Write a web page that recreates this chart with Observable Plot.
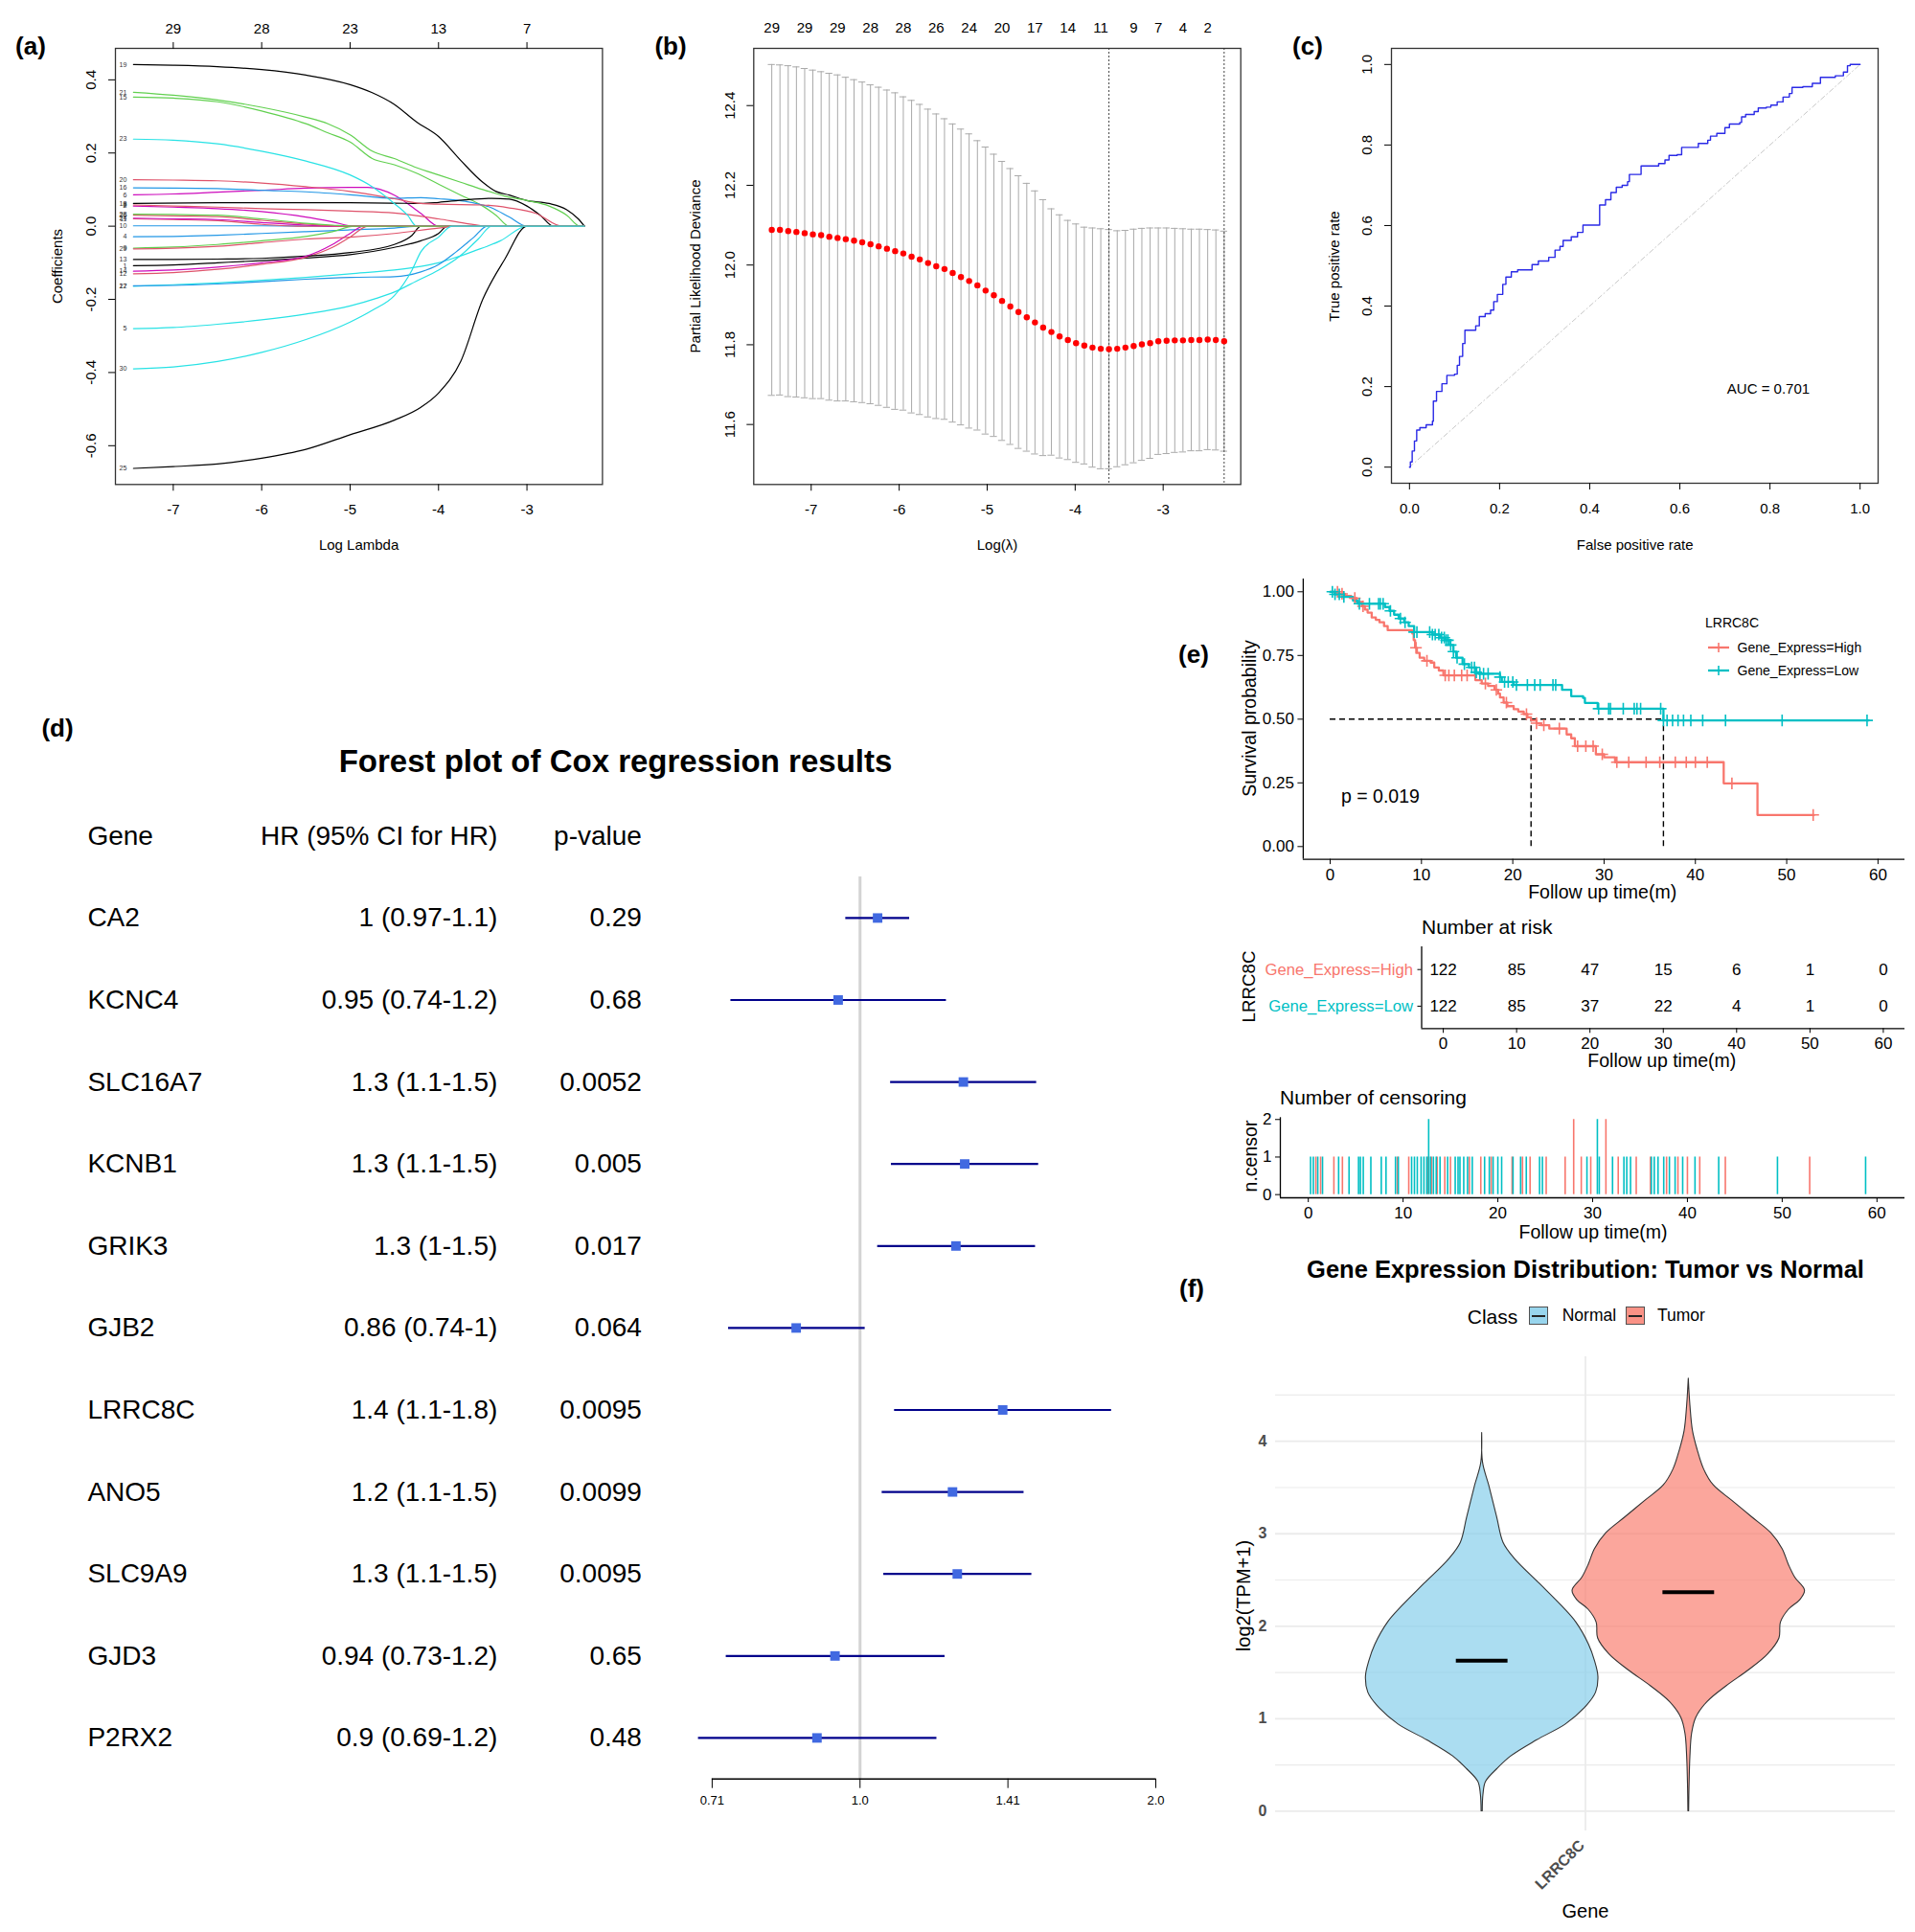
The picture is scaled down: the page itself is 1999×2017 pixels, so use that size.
<!DOCTYPE html>
<html><head><meta charset="utf-8">
<script src="https://cdn.jsdelivr.net/npm/d3@7"></script>
<script src="https://cdn.jsdelivr.net/npm/@observablehq/plot@0.6"></script>
<style>
body{margin:0;background:#fff;}
#root{position:relative;width:1999px;height:2017px;background:#fff;font-family:"Liberation Sans",Arial,Helvetica,sans-serif;overflow:hidden;color:#000;}
.abs{position:absolute;white-space:nowrap;line-height:1;}
</style></head><body><div id="root"></div>
<script>
// ---------------- DATA ----------------
// (a) LASSO coefficient paths: [logLambda, coef, logLambda, coef, ...]
const lassoIds = ["1","2","4","5","6","8","9","10","11","12","13","14","15","16","17","18","19","20","21","22","23","24","25","26","28","29","30"];
const lassoColors = ["#000000","#CD0BBC","#2297E6","#28E2E5","#CD0BBC","#DF536B","#61D04F","#2297E6","#DF536B","#DF536B","#000000","#CD0BBC","#61D04F","#2297E6","#28E2E5","#000000","#000000","#DF536B","#61D04F","#2297E6","#28E2E5","#CD0BBC","#000000","#DF536B","#61D04F","#DF536B","#28E2E5"];
const lassoPaths = [
 [-7.45,-.108,-7,-.106,-6.5,-.1,-6,-.094,-5.5,-.087,-5,-.078,-4.5,-.058,-4.2,-.04,-4,-.02,-3.9,0,-2.35,0],
 [-7.45,.055,-7,.052,-6.5,.048,-6,.04,-5.5,.025,-5.2,.012,-4.95,0,-2.35,0],
 [-7.45,-.029,-7,-.028,-6.5,-.025,-6,-.02,-5.5,-.015,-5,-.01,-4.5,-.005,-4.2,0,-2.35,0],
 [-7.45,-.28,-7,-.277,-6.5,-.268,-6,-.256,-5.5,-.24,-5,-.218,-4.7,-.197,-4.5,-.18,-4.25,-.15,-4,-.12,-3.75,-.08,-3.55,-.035,-3.4,0,-2.35,0],
 [-7.45,.086,-7,.088,-6.5,.093,-6,.098,-5.5,.104,-5,.106,-4.8,.106,-4.5,.085,-4.2,.035,-4,0,-2.35,0],
 [-7.45,.058,-7,.055,-6.5,.052,-6,.048,-5.5,.045,-5,.041,-4.5,.036,-4,.02,-3.7,.008,-3.45,0,-2.35,0],
 [-7.45,-.06,-7,-.057,-6.5,-.05,-6,-.04,-5.5,-.028,-5.2,-.015,-4.95,0,-2.35,0],
 [-7.45,.001,-6,.001,-5.5,0,-2.35,0],
 [-7.45,.02,-7,.018,-6.5,.015,-6,.005,-5.6,0,-2.35,0],
 [-7.45,-.13,-7,-.127,-6.5,-.118,-6,-.104,-5.5,-.085,-5.2,-.058,-5,-.03,-4.8,0,-2.35,0],
 [-7.45,-.091,-7,-.091,-6.5,-.09,-6,-.088,-5.5,-.082,-5,-.072,-4.5,-.05,-4.3,-.025,-4.2,0,-2.35,0],
 [-7.45,-.123,-7,-.12,-6.5,-.112,-6,-.1,-5.5,-.082,-5.2,-.05,-5,-.02,-4.85,0,-2.35,0],
 [-7.45,.353,-7,.35,-6.5,.34,-6,.315,-5.5,.28,-5.25,.255,-5,.23,-4.75,.185,-4.5,.168,-4.25,.145,-4,.115,-3.75,.085,-3.5,.055,-3.35,.03,-3.2,0,-2.35,0],
 [-7.45,.105,-7,.104,-6.5,.103,-6,.098,-5.5,.094,-5,.086,-4.5,.076,-4.2,.078,-4,.075,-3.7,.068,-3.4,.05,-3.2,.025,-3,0,-2.35,0],
 [-7.45,-.164,-7,-.16,-6.5,-.155,-6,-.148,-5.5,-.14,-5,-.13,-4.5,-.12,-4.2,-.11,-4,-.1,-3.8,-.085,-3.6,-.068,-3.3,-.04,-3,0,-2.35,0],
 [-7.45,.062,-6.5,.064,-5,.064,-4.5,.063,-4.2,.062,-4,.065,-3.7,.072,-3.4,.076,-3.2,.074,-3,.055,-2.85,.03,-2.7,0,-2.35,0],
 [-7.45,.442,-7,.44,-6.5,.436,-6,.428,-5.5,.413,-5,.387,-4.75,.365,-4.5,.333,-4.25,.285,-4,.245,-3.75,.18,-3.5,.12,-3.35,.095,-3.2,.085,-3,.07,-2.75,.062,-2.55,.045,-2.42,.02,-2.35,0],
 [-7.45,.127,-7,.126,-6.5,.124,-6,.118,-5.5,.108,-5,.095,-4.5,.075,-4.2,.062,-4,.06,-3.5,.058,-3.2,.05,-2.9,.035,-2.6,0,-2.35,0],
 [-7.45,.366,-7,.358,-6.5,.345,-6,.325,-5.5,.298,-5.25,.28,-5,.25,-4.75,.205,-4.5,.185,-4.25,.16,-4,.14,-3.75,.12,-3.5,.1,-3.25,.082,-3,.07,-2.75,.055,-2.55,.03,-2.4,0,-2.35,0],
 [-7.45,-.163,-7,-.162,-6.5,-.158,-6,-.152,-5.5,-.145,-5,-.14,-4.5,-.138,-4.2,-.125,-4,-.105,-3.8,-.07,-3.6,-.03,-3.45,0,-2.35,0],
 [-7.45,.238,-7,.235,-6.5,.225,-6,.205,-5.5,.178,-5,.14,-4.75,.108,-4.5,.062,-4.35,.03,-4.25,0,-2.35,0],
 [-7.45,.022,-7,.02,-6.5,.018,-6,.01,-5.5,.003,-5.2,0,-2.35,0],
 [-7.45,-.662,-7,-.657,-6.5,-.65,-6,-.634,-5.5,-.61,-5,-.57,-4.5,-.53,-4.2,-.495,-4,-.456,-3.75,-.37,-3.5,-.2,-3.25,-.09,-3,0,-2.35,0],
 [-7.45,.03,-7,.028,-6.5,.026,-6,.016,-5.5,.006,-5.1,0,-2.35,0],
 [-7.45,.033,-7,.032,-6.5,.03,-6,.02,-5.5,.008,-5.2,.003,-4.95,0,-2.35,0],
 [-7.45,-.062,-7,-.06,-6.5,-.055,-6,-.045,-5.5,-.035,-5,-.03,-4.5,-.02,-4,-.005,-3.8,0,-2.35,0],
 [-7.45,-.39,-7,-.385,-6.5,-.37,-6,-.345,-5.5,-.31,-5,-.262,-4.75,-.23,-4.5,-.19,-4.3,-.12,-4.2,-.07,-4,-.03,-3.85,0,-2.35,0]
];
const aXTicks = [-7,-6,-5,-4,-3];
const aTopAt = [-7,-6,-5,-4,-3];
const aTopLabels = ["29","28","23","13","7"];
const aYTicks = [-0.6,-0.4,-0.2,0,0.2,0.4];

// (b) cross-validation curve
const cvLambda = [-7.448,-7.355,-7.261,-7.168,-7.074,-6.981,-6.887,-6.794,-6.700,-6.607,-6.513,-6.420,-6.326,-6.233,-6.139,-6.046,-5.953,-5.859,-5.766,-5.672,-5.579,-5.485,-5.392,-5.298,-5.205,-5.111,-5.018,-4.924,-4.831,-4.737,-4.644,-4.550,-4.457,-4.364,-4.270,-4.177,-4.083,-3.990,-3.896,-3.803,-3.709,-3.616,-3.522,-3.429,-3.335,-3.242,-3.148,-3.055,-2.961,-2.868,-2.775,-2.681,-2.588,-2.494,-2.401,-2.307];
const cvMean = [12.088,12.088,12.085,12.083,12.080,12.077,12.075,12.071,12.068,12.065,12.061,12.057,12.052,12.047,12.041,12.035,12.029,12.021,12.014,12.005,11.997,11.990,11.980,11.970,11.960,11.949,11.936,11.924,11.910,11.896,11.882,11.869,11.856,11.843,11.832,11.821,11.812,11.804,11.798,11.793,11.790,11.789,11.790,11.793,11.797,11.801,11.804,11.809,11.810,11.811,11.811,11.812,11.812,11.813,11.812,11.809];
const cvSE = [0.415,0.414,0.415,0.414,0.413,0.412,0.410,0.410,0.409,0.406,0.404,0.402,0.400,0.399,0.398,0.397,0.393,0.392,0.389,0.386,0.382,0.377,0.374,0.371,0.369,0.363,0.360,0.354,0.350,0.346,0.342,0.336,0.330,0.321,0.309,0.305,0.300,0.299,0.297,0.300,0.301,0.300,0.296,0.294,0.293,0.291,0.289,0.284,0.283,0.281,0.280,0.278,0.278,0.276,0.276,0.276];
const cvTopIdx = [0,4,8,12,16,20,24,28,32,36,40,44,47,50,53];
const cvTopNz = ["29","29","29","28","28","26","24","20","17","14","11","9","7","4","2"];
const cvMinIdx = 41, cv1seIdx = 55;
const bXTicks = [-7,-6,-5,-4,-3];
const bYTicks = [11.6,11.8,12.0,12.2,12.4];

// (c) ROC
const rocFpr = [0,0.002,0.006,0.011,0.016,0.023,0.037,0.051,0.053,0.06,0.072,0.083,0.1,0.106,0.111,0.118,0.123,0.138,0.147,0.155,0.168,0.18,0.187,0.195,0.207,0.214,0.226,0.24,0.263,0.272,0.286,0.309,0.323,0.334,0.341,0.359,0.373,0.385,0.415,0.422,0.435,0.447,0.459,0.472,0.484,0.488,0.511,0.514,0.539,0.553,0.567,0.576,0.594,0.604,0.631,0.641,0.662,0.668,0.682,0.7,0.71,0.733,0.737,0.746,0.765,0.774,0.792,0.802,0.816,0.829,0.843,0.849,0.873,0.894,0.912,0.945,0.963,0.972,0.978,1.0];
const rocTpr = [0,0.013,0.04,0.065,0.092,0.098,0.105,0.114,0.164,0.188,0.207,0.228,0.231,0.253,0.275,0.307,0.34,0.34,0.351,0.374,0.381,0.39,0.411,0.429,0.454,0.472,0.485,0.49,0.49,0.503,0.512,0.521,0.539,0.548,0.563,0.572,0.583,0.601,0.601,0.651,0.664,0.682,0.695,0.7,0.709,0.727,0.727,0.748,0.748,0.754,0.763,0.774,0.776,0.794,0.794,0.804,0.812,0.822,0.829,0.843,0.852,0.856,0.87,0.876,0.883,0.892,0.894,0.899,0.907,0.919,0.928,0.943,0.945,0.953,0.968,0.972,0.981,0.997,1.0,1.0];
const rocAuc = "AUC = 0.701";
const cTicks = [0,0.2,0.4,0.6,0.8,1.0];

// (d) Cox forest
const coxGenes = ["CA2","KCNC4","SLC16A7","KCNB1","GRIK3","GJB2","LRRC8C","ANO5","SLC9A9","GJD3","P2RX2"];
const coxHRText = ["1 (0.97-1.1)","0.95 (0.74-1.2)","1.3 (1.1-1.5)","1.3 (1.1-1.5)","1.3 (1-1.5)","0.86 (0.74-1)","1.4 (1.1-1.8)","1.2 (1.1-1.5)","1.3 (1.1-1.5)","0.94 (0.73-1.2)","0.9 (0.69-1.2)"];
const coxPText = ["0.29","0.68","0.0052","0.005","0.017","0.064","0.0095","0.0099","0.0095","0.65","0.48"];
const coxHR = [1.042,0.950,1.274,1.278,1.252,0.861,1.397,1.242,1.256,0.943,0.904];
const coxLo = [0.966,0.738,1.073,1.075,1.041,0.734,1.083,1.052,1.056,0.730,0.684];
const coxHi = [1.122,1.223,1.511,1.518,1.507,1.011,1.801,1.467,1.494,1.219,1.196];
const coxHeader = ["Gene","HR (95% CI for HR)","p-value"];
const coxTicks = [0.70711,1,1.41421,2];
const coxTickLabels = ["0.71","1.0","1.41","2.0"];

// (e) Kaplan-Meier
const kmHighT = [0,0.9,1.6,2.3,2.9,3.5,3.8,4.1,4.55,5.0,5.4,5.9,6.3,9.0,9.15,9.3,9.5,9.8,10.3,11.0,11.4,11.9,12.4,15.9,16.6,17.3,18.0,18.4,18.6,19.0,19.4,20.1,20.6,21.2,21.6,22.0,22.6,23.1,24.0,25.9,26.4,26.8,29.1,30.0,31.2,43.1,46.8,53];
const kmHighS = [1,0.992,0.984,0.975,0.96,0.943,0.93,0.918,0.899,0.89,0.88,0.865,0.849,0.836,0.81,0.78,0.76,0.741,0.729,0.722,0.703,0.691,0.672,0.653,0.64,0.63,0.615,0.6,0.585,0.565,0.551,0.539,0.53,0.52,0.507,0.495,0.484,0.476,0.463,0.44,0.425,0.394,0.362,0.35,0.331,0.248,0.124,0.124];
const kmLowT = [0,0.5,1.5,2.5,3.0,6.0,6.5,7.0,7.5,8.1,8.6,9.2,11.2,12.0,12.6,13.1,13.5,13.8,14.5,15.2,16.0,16.3,18.6,18.8,20.1,25.4,26.4,27.7,27.9,29.3,36.5,59];
const kmLowS = [1,0.99,0.98,0.965,0.953,0.94,0.925,0.91,0.895,0.88,0.865,0.842,0.832,0.82,0.81,0.791,0.765,0.741,0.716,0.703,0.684,0.678,0.665,0.646,0.634,0.615,0.59,0.583,0.564,0.541,0.495,0.495];
const censHighT = [0.8,1.3,2.7,3.6,9.4,10.6,12.6,13.0,13.6,14.4,15.0,17.0,18.2,19.3,21.5,22.6,23.4,25.1,27.1,28.0,28.8,29.8,31.4,32.7,34.6,36.1,37.8,39.0,40.0,41.3,44.0,52.9];
const censHighN = [1,1,1,1,1,1,1,1,1,1,1,1,1,1,1,1,1,1,1,2,1,1,2,1,1,1,1,1,1,1,1,1];
const censLowT = [0.24,0.53,1.0,1.5,3.2,4.3,5.3,5.5,5.8,6.6,7.7,8.2,9.2,9.5,10.9,11.2,11.5,11.9,12.2,12.5,12.7,12.9,13.2,13.5,13.9,14.7,15.5,15.8,16.0,16.4,16.8,17.3,18.6,19.1,19.5,20.0,20.4,21.6,22.4,23.0,24.4,24.7,29.4,30.5,30.7,32.1,33.3,33.6,34.0,36.2,36.5,36.9,37.5,38.1,38.7,39.5,40.8,43.3,49.5,58.8];
const censLowN = [1,1,1,1,1,1,1,1,1,1,1,1,1,1,1,1,1,1,1,1,2,1,1,1,1,1,1,1,1,1,1,1,1,1,1,1,1,1,1,1,1,1,1,2,1,1,1,1,1,1,1,1,1,1,1,1,1,1,1,1];
const kmMedians = [22.0, 36.5];
const kmGroups = ["Gene_Express=High","Gene_Express=Low"];
const kmColors = ["#F8766D","#00BFC4"];
const kmPText = "p = 0.019";
const timeTicks = [0,10,20,30,40,50,60];
const survTicks = [0,0.25,0.5,0.75,1];
const riskHigh = [122,85,47,15,6,1,0];
const riskLow = [122,85,37,22,4,1,0];
const censTicks = [0,1,2];

// (f) violin
const vClasses = ["Normal","Tumor"];
const vFills = ["#87CEEB","#FA8072"];
const vNormV = [0,0.179,0.317,0.455,0.593,0.765,0.938,1.110,1.282,1.455,1.627,1.799,2.041,2.213,2.454,2.730,2.902,3.178,3.523,3.764,4.09];
const vNormW = [0.005,0.011,0.033,0.13,0.25,0.47,0.72,0.88,0.98,1.0,0.97,0.92,0.81,0.69,0.5,0.28,0.184,0.129,0.06,0.008,0];
const vTumV = [0,0.248,0.593,0.834,1.007,1.179,1.351,1.524,1.696,1.868,2.041,2.179,2.282,2.385,2.523,2.661,2.834,3.006,3.178,3.351,3.523,3.695,3.902,4.109,4.385,4.678];
const vTumW = [0.003,0.006,0.014,0.028,0.063,0.16,0.325,0.518,0.683,0.78,0.793,0.862,0.959,1.0,0.917,0.862,0.807,0.71,0.545,0.38,0.215,0.132,0.077,0.036,0.014,0];
const vMedians = [1.627, 2.368];
const vGene = "LRRC8C";
const vTicks = [0,1,2,3,4];
const vMinor = [0.5,1.5,2.5,3.5,4.5];

// ---------------- HELPERS ----------------
const FONT = '"Liberation Sans", Arial, Helvetica, sans-serif';
const root = document.getElementById("root");
function put(el, left, top){ el.style.position="absolute"; el.style.left=left+"px"; el.style.top=top+"px"; root.appendChild(el); return el; }
function label(text, x, y, o={}){
  const d=document.createElement("div"); d.className="abs"; d.textContent=text;
  d.style.left=x+"px"; d.style.top=y+"px"; d.style.fontSize=(o.size||15)+"px";
  d.style.fontWeight=o.weight||"normal"; d.style.color=o.color||"#000";
  const a=o.anchor||"middle"; const tx=a==="middle"?"-50%":a==="end"?"-100%":"0";
  d.style.transform=`translate(${tx},-50%)`+(o.rotate?` rotate(${o.rotate}deg)`:"");
  root.appendChild(d); return d;
}
function st(size){ return {fontFamily:FONT, fontSize:size+"px", color:"#000", background:"transparent", overflow:"visible"}; }

// ---------------- (a) ----------------
const lassoRows=[]; const lassoStarts=[];
lassoIds.forEach((id,k)=>{ const p=lassoPaths[k]; lassoStarts.push({id,x:p[0],y:p[1]});
  for(let i=0;i<p.length;i+=2) lassoRows.push({id,color:lassoColors[k],x:p[i],y:p[i+1]}); });
const aTopMap=new Map(aTopAt.map((v,i)=>[v,aTopLabels[i]]));
put(Plot.plot({
  width:650,height:600,marginLeft:120,marginRight:21.6,marginTop:50,marginBottom:94.7,
  x:{domain:[-7.654,-2.146]}, y:{domain:[-0.706,0.486]}, color:{type:"identity"}, style:st(15),
  marks:[
    Plot.line(lassoRows,{x:"x",y:"y",z:"id",stroke:"color",strokeWidth:1.2,curve:"monotone-x"}),
    Plot.text(lassoStarts,{x:"x",y:"y",text:"id",dx:-7,textAnchor:"end",fontSize:7,fill:"#333"}),
    Plot.frame({stroke:"#333",strokeWidth:1.3}),
    Plot.axisX({anchor:"bottom",ticks:aXTicks,tickSize:7,tickPadding:14,label:null,tickFormat:d=>String(d)}),
    Plot.axisX({anchor:"top",ticks:aTopAt,tickSize:7,tickPadding:9,label:null,tickFormat:d=>aTopMap.get(d)}),
    Plot.axisY({ticks:aYTicks,tickSize:7,label:null,tickFormat:()=>""}),
    Plot.text(aYTicks,{y:d=>d,text:d=>d.toFixed(1),frameAnchor:"left",textAnchor:"middle",dx:-25,rotate:-90})
  ]}),0,0);
label("Log Lambda",374.6,568,{size:15});
label("Coefficients",59,278,{size:15,rotate:-90});
label("(a)",32,48,{size:26,weight:"bold"});

// ---------------- (b) ----------------
const cvRows=cvLambda.map((x,i)=>({x,m:cvMean[i],se:cvSE[i]}));
const bTopMap=new Map(cvTopIdx.map((k,i)=>[cvLambda[k],cvTopNz[i]]));
put(Plot.plot({
  width:660,height:600,marginLeft:126.3,marginRight:25.3,marginTop:50,marginBottom:94.7,
  x:{domain:[-7.653,-2.118]}, y:{domain:[11.4495,12.5435]}, style:st(15),
  marks:[
    Plot.ruleX(cvRows,{x:"x",y1:d=>d.m-d.se,y2:d=>d.m+d.se,stroke:"#A9A9A9",strokeWidth:1}),
    Plot.ruleY(cvRows,{y:d=>d.m+d.se,x1:d=>d.x-0.04,x2:d=>d.x+0.04,stroke:"#A9A9A9",strokeWidth:1}),
    Plot.ruleY(cvRows,{y:d=>d.m-d.se,x1:d=>d.x-0.04,x2:d=>d.x+0.04,stroke:"#A9A9A9",strokeWidth:1}),
    Plot.ruleX([cvLambda[cvMinIdx],cvLambda[cv1seIdx]],{stroke:"#444",strokeDasharray:"2,2",strokeWidth:1}),
    Plot.dot(cvRows,{x:"x",y:"m",r:3.2,fill:"#FF0000"}),
    Plot.frame({stroke:"#333",strokeWidth:1.3}),
    Plot.axisX({anchor:"bottom",ticks:bXTicks,tickSize:7,tickPadding:14,label:null,tickFormat:d=>String(d)}),
    Plot.axisX({anchor:"top",ticks:cvTopIdx.map(k=>cvLambda[k]),tickSize:0,tickPadding:17,label:null,tickFormat:d=>bTopMap.get(d)}),
    Plot.axisY({ticks:bYTicks,tickSize:7,label:null,tickFormat:()=>""}),
    Plot.text(bYTicks,{y:d=>d,text:d=>d.toFixed(1),frameAnchor:"left",textAnchor:"middle",dx:-24.5,rotate:-90})
  ]}),660,0);
label("Log(\u03BB)",1041,568,{size:15});
label("Partial Likelihood Deviance",725,278,{size:15,rotate:-90});
label("(b)",700,48,{size:26,weight:"bold"});

// ---------------- (c) ----------------
const rocRows=rocFpr.map((f,i)=>({f,t:rocTpr[i]}));
put(Plot.plot({
  width:679,height:600,marginLeft:132,marginRight:39,marginTop:50,marginBottom:96,
  x:{domain:[-0.04,1.04]}, y:{domain:[-0.04,1.04]}, style:st(15),
  marks:[
    Plot.line([rocRows[0],rocRows[rocRows.length-1]],{x:"f",y:"t",stroke:"#C8C8C8",strokeDasharray:"5,3,1,3",strokeWidth:1}),
    Plot.line(rocRows,{x:"f",y:"t",curve:"step-after",stroke:"#2A2AE6",strokeWidth:1.4}),
    Plot.frame({stroke:"#333",strokeWidth:1.3}),
    Plot.axisX({anchor:"bottom",ticks:cTicks,tickSize:7,tickPadding:14,label:null,tickFormat:d=>d.toFixed(1)}),
    Plot.axisY({ticks:cTicks,tickSize:7,label:null,tickFormat:()=>""}),
    Plot.text(cTicks,{y:d=>d,text:d=>d.toFixed(1),frameAnchor:"left",textAnchor:"middle",dx:-25.5,rotate:-90})
  ]}),1320,0);
label(rocAuc,1846,404.5,{size:15});
label("False positive rate",1706.7,568,{size:15});
label("True positive rate",1391.5,278,{size:15,rotate:-90});
label("(c)",1365,48,{size:26,weight:"bold"});

// ---------------- (d) ----------------
const coxRows=coxGenes.map((g,i)=>({i:i+1,g,hrt:coxHRText[i],pt:coxPText[i],hr:coxHR[i],lo:coxLo[i],hi:coxHi[i]}));
const coxTickMap=new Map(coxTicks.map((v,i)=>[v,coxTickLabels[i]]));
const hdr=[{i:0}];
put(Plot.plot({
  width:1240,height:1180,marginLeft:742.9,marginRight:34,marginTop:175.1,marginBottom:63.3,
  x:{type:"log",base:2,domain:[0.70711,2]}, y:{domain:[0.5,11.5],reverse:true,axis:null}, style:st(28),
  marks:[
    Plot.ruleX([1],{stroke:"#D3D3D3",strokeWidth:3}),
    Plot.ruleY([11.5],{stroke:"#000",strokeWidth:1.5}),
    Plot.link(coxRows,{x1:"lo",x2:"hi",y1:"i",y2:"i",stroke:"#00008B",strokeWidth:2.2}),
    Plot.dot(coxRows,{x:"hr",y:"i",symbol:"square",r:5.6,fill:"#4169E1"}),
    Plot.text(coxRows,{y:"i",text:"g",frameAnchor:"left",dx:-652,textAnchor:"start",fontSize:28}),
    Plot.text(coxRows,{y:"i",text:"hrt",frameAnchor:"left",dx:-224.1,textAnchor:"end",fontSize:28}),
    Plot.text(coxRows,{y:"i",text:"pt",frameAnchor:"left",dx:-73.5,textAnchor:"end",fontSize:28}),
    Plot.text(hdr,{y:"i",text:()=>coxHeader[0],frameAnchor:"left",dx:-652,textAnchor:"start",fontSize:28}),
    Plot.text(hdr,{y:"i",text:()=>coxHeader[1],frameAnchor:"left",dx:-224.1,textAnchor:"end",fontSize:28}),
    Plot.text(hdr,{y:"i",text:()=>coxHeader[2],frameAnchor:"left",dx:-73.5,textAnchor:"end",fontSize:28}),
    Plot.axisX({ticks:coxTicks,tickSize:10,tickPadding:8,fontSize:13,label:null,tickFormat:d=>coxTickMap.get(d)})
  ]}),0,740);
label("Forest plot of Cox regression results",642.5,793.6,{size:33,weight:"bold"});
label("(d)",60,760,{size:26,weight:"bold"});

// ---------------- (e) KM ----------------
function survAt(T,S,t){ let s=S[0]; for(let i=0;i<T.length;i++){ if(T[i]<=t) s=S[i]; else break; } return s; }
const kmHighRows=kmHighT.map((t,i)=>({t,s:kmHighS[i]}));
const kmLowRows=kmLowT.map((t,i)=>({t,s:kmLowS[i]}));
const censHighRows=censHighT.map((t,i)=>({t,n:censHighN[i],s:survAt(kmHighT,kmHighS,t)}));
const censLowRows=censLowT.map((t,i)=>({t,n:censLowN[i],s:survAt(kmLowT,kmLowS,t)}));
put(Plot.plot({
  width:759,height:360,marginLeft:119.9,marginRight:11,marginTop:14,marginBottom:53.4,
  x:{domain:[-2.95,62.95]}, y:{domain:[-0.05,1.05]}, style:st(17),
  marks:[
    Plot.ruleY([-0.05],{stroke:"#000",strokeWidth:1.3}),
    Plot.ruleX([-2.95],{stroke:"#000",strokeWidth:1.3}),
    Plot.axisX({ticks:timeTicks,tickSize:5.5,tickPadding:4,label:null}),
    Plot.axisY({ticks:survTicks,tickSize:5.5,tickPadding:4,label:null,tickFormat:d=>d.toFixed(2)}),
    Plot.ruleY([0.5],{x1:0,x2:kmMedians[1],stroke:"#000",strokeDasharray:"6,4",strokeWidth:1.4}),
    Plot.ruleX(kmMedians,{y1:0,y2:0.5,stroke:"#000",strokeDasharray:"6,4",strokeWidth:1.4}),
    Plot.line(kmHighRows,{x:"t",y:"s",curve:"step-after",stroke:kmColors[0],strokeWidth:2.3}),
    Plot.line(kmLowRows,{x:"t",y:"s",curve:"step-after",stroke:kmColors[1],strokeWidth:2.3}),
    Plot.dot(censHighRows,{x:"t",y:"s",symbol:"plus",r:4,stroke:kmColors[0],strokeWidth:1.6}),
    Plot.dot(censLowRows,{x:"t",y:"s",symbol:"plus",r:4,stroke:kmColors[1],strokeWidth:1.6})
  ]}),1240,590);
label("Survival probability",1305,750,{size:19.5,rotate:-90});
label("Follow up time(m)",1672.7,931.7,{size:19.5});
label(kmPText,1400,832,{size:19.5,anchor:"start"});
label("(e)",1246,683,{size:26,weight:"bold"});
label("LRRC8C",1780,650,{size:14,anchor:"start"});
kmGroups.forEach((g,i)=>{
  const y=676+i*24;
  const s=document.createElementNS("http://www.w3.org/2000/svg","svg");
  s.setAttribute("width","24"); s.setAttribute("height","12");
  s.innerHTML=`<line x1="1" y1="6" x2="23" y2="6" stroke="${kmColors[i]}" stroke-width="2.3"/><line x1="12" y1="1" x2="12" y2="11" stroke="${kmColors[i]}" stroke-width="1.6"/>`;
  put(s,1781.5,y-6);
  label(g,1813.6,y,{size:14,anchor:"start"});
});

// risk table
const riskRows=[]; timeTicks.forEach((t,j)=>{ riskRows.push({t,g:1,n:riskHigh[j]}); riskRows.push({t,g:2,n:riskLow[j]}); });
const riskLab=kmGroups.map((g,i)=>({g:i+1,lab:g,c:kmColors[i]}));
put(Plot.plot({
  width:759,height:180,marginLeft:243.5,marginRight:11,marginTop:48,marginBottom:46.7,
  x:{domain:[-2.95,62.95]}, y:{domain:[0.38,2.61],reverse:true}, style:st(17),
  marks:[
    Plot.ruleY([2.61],{stroke:"#000",strokeWidth:1.3}),
    Plot.ruleX([-2.95],{stroke:"#000",strokeWidth:1.3}),
    Plot.axisX({ticks:timeTicks,tickSize:5,tickPadding:4,label:null}),
    Plot.axisY({ticks:[1,2],tickSize:4,label:null,tickFormat:()=>""}),
    Plot.text(riskLab,{y:"g",text:"lab",fill:"c",frameAnchor:"left",dx:-9,textAnchor:"end",fontSize:16.7}),
    Plot.text(riskRows,{x:"t",y:"g",text:d=>String(d.n),fontSize:17})
  ]}),1240,940);
label("Number at risk",1484,966.7,{size:21,anchor:"start"});
label("LRRC8C",1304,1030,{size:18.7,rotate:-90});
label("Follow up time(m)",1734.8,1108.3,{size:19.5});

// censoring plot
put(Plot.plot({
  width:759,height:180,marginLeft:96,marginRight:11,marginTop:46.3,marginBottom:50,
  x:{domain:[-2.95,62.95]}, y:{domain:[-0.085,2.05]}, style:st(17),
  marks:[
    Plot.ruleY([-0.085],{stroke:"#000",strokeWidth:1.3}),
    Plot.ruleX([-2.95],{stroke:"#000",strokeWidth:1.3}),
    Plot.ruleX(censHighRows,{x:"t",y1:0,y2:"n",stroke:kmColors[0],strokeWidth:1.6}),
    Plot.ruleX(censLowRows,{x:"t",y1:0,y2:"n",stroke:kmColors[1],strokeWidth:1.6}),
    Plot.axisX({ticks:timeTicks,tickSize:5,tickPadding:4,label:null}),
    Plot.axisY({ticks:censTicks,tickSize:5,tickPadding:4,label:null,tickFormat:d=>String(d)})
  ]}),1240,1120);
label("Number of censoring",1336,1145,{size:21,anchor:"start"});
label("n.censor",1306,1206.7,{size:19.5,rotate:-90});
label("Follow up time(m)",1663,1286.7,{size:19.5});

// ---------------- (f) violin ----------------
const vCenters=[1-0.2,1+0.2];
const vNormRows=vNormV.map((v,i)=>({v,w:vNormW[i]}));
const vTumRows=vTumV.map((v,i)=>({v,w:vTumW[i]}));
const vMedRows=vMedians.map((m,i)=>({m,c:vCenters[i]}));
put(Plot.plot({
  width:759,height:727,marginLeft:91,marginRight:21,marginTop:126,marginBottom:106,
  x:{domain:[0.4,1.6],axis:null}, y:{domain:[-0.213,4.913],axis:null}, style:st(16),
  marks:[
    Plot.ruleY(vMinor,{stroke:"#EBEBEB",strokeWidth:1.1}),
    Plot.ruleY(vTicks,{stroke:"#EBEBEB",strokeWidth:1.8}),
    Plot.ruleX([1],{stroke:"#EBEBEB",strokeWidth:1.8}),
    Plot.areaX(vNormRows,{y:"v",x1:d=>vCenters[0]-0.225*d.w,x2:d=>vCenters[0]+0.225*d.w,fill:vFills[0],fillOpacity:0.7,stroke:"#333",strokeWidth:1.1,curve:"catmull-rom"}),
    Plot.areaX(vTumRows,{y:"v",x1:d=>vCenters[1]-0.225*d.w,x2:d=>vCenters[1]+0.225*d.w,fill:vFills[1],fillOpacity:0.7,stroke:"#333",strokeWidth:1.1,curve:"catmull-rom"}),
    Plot.ruleY(vMedRows,{y:"m",x1:d=>d.c-0.05,x2:d=>d.c+0.05,stroke:"#000",strokeWidth:4}),
    Plot.text(vTicks,{y:d=>d,text:d=>String(d),frameAnchor:"left",dx:-9,textAnchor:"end",fontWeight:"bold",fill:"#4D4D4D",fontSize:16}),
    Plot.text([vGene],{x:1,text:d=>d,frameAnchor:"bottom",dy:16,rotate:-45,textAnchor:"end",fontWeight:"bold",fill:"#4D4D4D",fontSize:16})
  ]}),1240,1290);
label("Gene Expression Distribution: Tumor vs Normal",1655,1326,{size:25.5,weight:"bold"});
label("log2(TPM+1)",1297.8,1665.5,{size:20,rotate:-90});
label("Gene",1655,1994.7,{size:20});
label("(f)",1244,1345,{size:26,weight:"bold"});
label("Class",1558,1373.5,{size:21});
const keyX=[1596,1696.6], textX=[1630.7,1730];
vClasses.forEach((c,i)=>{
  const k=document.createElement("div");
  k.style.width="20px"; k.style.height="19px"; k.style.border="1.3px solid #333";
  k.style.background=vFills[i]; k.style.opacity="0.85"; k.style.boxSizing="border-box";
  k.innerHTML='<div style="position:absolute;left:2px;right:2px;top:8px;height:2px;background:#000"></div>';
  put(k,keyX[i],1364);
  label(c,textX[i],1373.5,{size:17.5,anchor:"start"});
});
</script></body></html>
